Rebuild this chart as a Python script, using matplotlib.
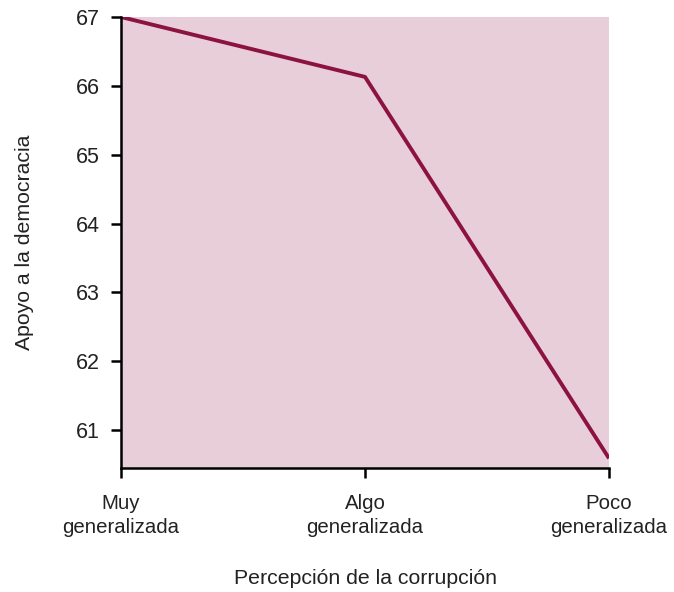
import matplotlib
matplotlib.use("Agg")
import matplotlib.pyplot as plt

# perception of corruption vs. support for democracy
categories = ["Muy\ngeneralizada", "Algo\ngeneralizada", "Poco\ngeneralizada"]
apoyo = [67.0, 66.13, 60.59]
yticks = [61, 62, 63, 64, 65, 66, 67]

plt.rcParams['font.family'] = ['Liberation Sans', 'DejaVu Sans']

fig = plt.figure(figsize=(6.74, 5.92), dpi=100)
ax = fig.add_axes([0.1795, 0.2095, 0.9036 - 0.1795, 0.9713 - 0.2095])
ax.set_facecolor('#E8CED8')

x = list(range(len(categories)))
ax.plot(x, apoyo, color='#8C1340', lw=2.8, solid_capstyle='butt')

ax.set_xlim(0, 2)
ax.set_ylim(60.45, 67.0)
ax.set_xticks(x)
ax.set_xticklabels(categories, fontsize=14.7, color='#222222', linespacing=1.3)
ax.set_yticks(yticks)
ax.set_yticklabels([str(t) for t in yticks], fontsize=15.5, color='#222222')

for s in ['top', 'right']:
    ax.spines[s].set_visible(False)
for s in ['left', 'bottom']:
    ax.spines[s].set_linewidth(1.8)
ax.tick_params(axis='both', direction='out', length=7, width=1.8, pad=8)
ax.tick_params(axis='x', pad=12)

ax.set_ylabel("Apoyo a la democracia", fontsize=15.3, color='#222222')
ax.yaxis.set_label_coords(-0.178, 0.5)
ax.set_xlabel("Percepción de la corrupción", fontsize=15.3, color='#222222')
ax.xaxis.set_label_coords(0.5, -0.224)

fig.savefig("out.png", dpi=100)
